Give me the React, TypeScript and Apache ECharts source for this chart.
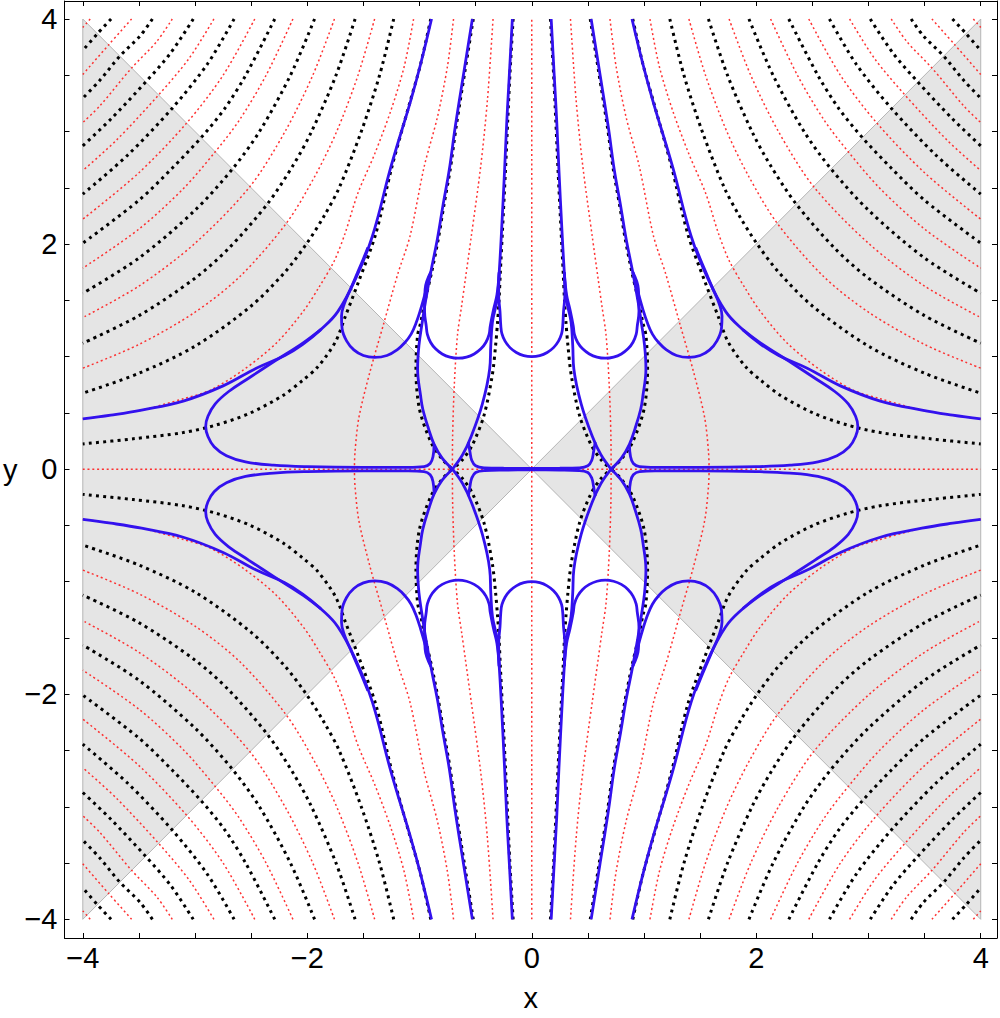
import React, { useEffect, useRef } from "react";
import * as echarts from "echarts";

type Pt = [number, number];

// ---------- axes ----------
const X_RANGE: Pt = [-4.163, 4.145];
const Y_RANGE: Pt = [-4.166, 4.16];
const TICK_VALUES = [-4, -3.5, -3, -2.5, -2, -1.5, -1, -0.5, 0, 0.5, 1, 1.5, 2, 2.5, 3, 3.5, 4];
const LABEL_VALUES = [-4, -2, 0, 2, 4];

// ---------- shaded region |x| > |y| ----------
const SHADE_LEFT: Pt[] = [[-4, -4], [-4, 4], [0, 0]];
const SHADE_RIGHT: Pt[] = [[4, 4], [4, -4], [0, 0]];

// ---------- red dotted contours ----------
const RED_VERTICAL: Pt[] = [[0, -4], [0, 4]];
const RED_HORIZONTAL: Pt[] = [[-4, 0], [4, 0]];
// quadrant I (x>=0, y>=0); the picture is mirror-symmetric in both axes
const red1: Pt[] = [[0.345, 4], [0.395, 3.28], [0.455, 2.69], [0.54, 2.06], [0.59, 1.7], [0.625, 1.45], [0.662, 1.19], [0.69, 0.75], [0.705, 0.3], [0.707, 0]];
const red2: Pt[] = [[0.697, 4], [0.751, 3.58], [0.84, 3.13], [0.958, 2.69], [1.085, 2.07], [1.195, 1.73], [1.32, 1.29], [1.44, 0.87], [1.54, 0.46], [1.575, 0.15], [1.58, 0]];
const red3: Pt[] = [[1.053, 4], [1.136, 3.58], [1.254, 3.19], [1.4, 2.8], [1.55, 2.45], [1.665, 2.09], [1.76, 1.85], [1.9, 1.61], [2.03, 1.41], [2.276, 1.12], [2.572, 0.88], [2.868, 0.7], [3.105, 0.625], [3.5, 0.52], [4, 0.446]];
const red4: Pt[] = [[1.4, 4], [1.548, 3.5], [1.738, 3.0], [1.934, 2.6], [2.186, 2.186], [2.6, 1.712], [3.0, 1.395], [3.5, 1.108], [4, 0.897]];
const red5: Pt[] = [[1.758, 4], [1.951, 3.5], [2.198, 3.0], [2.511, 2.511], [3.0, 2.007], [3.5, 1.627], [4, 1.347]];
const red6: Pt[] = [[2.128, 4], [2.367, 3.5], [2.606, 3.1], [2.82, 2.82], [3.1, 2.497], [3.5, 2.133], [4, 1.786]];
const red7: Pt[] = [[2.468, 4], [2.75, 3.5], [3.075, 3.075], [3.5, 2.634], [4, 2.221]];
const red8: Pt[] = [[2.832, 4], [3.053, 3.65], [3.325, 3.325], [3.7, 2.924], [4, 2.653]];
const red9: Pt[] = [[3.203, 4], [3.341, 3.8], [3.565, 3.565], [3.85, 3.226], [4, 3.08]];
const red10: Pt[] = [[3.565, 4], [3.77, 3.77], [4, 3.507]];
const red11: Pt[] = [[3.934, 4], [3.965, 3.965], [4, 3.925]];

// ---------- black dotted contours (quadrant I) ----------
const black1: Pt[] = [[0.166, 4], [0.195, 3.5], [0.214, 3.1], [0.234, 2.66], [0.262, 2.1], [0.28, 1.75], [0.292, 1.49], [0.305, 1.3], [0.322, 1.1], [0.351, 0.84], [0.425, 0.48], [0.529, 0.215], [0.62, 0.08], [0.707, 0]];
const black2: Pt[] = [[0.521, 4], [0.598, 3.52], [0.674, 3.04], [0.727, 2.66], [0.782, 2.35], [0.832, 2.05], [0.892, 1.75], [0.95, 1.5], [0.99, 1.3], [1.017, 1.19], [1.032, 0.897], [1.002, 0.541], [0.9, 0.244], [0.8, 0.09], [0.707, 0]];
const black3: Pt[] = [[0.9, 4], [0.99, 3.6], [1.08, 3.28], [1.245, 2.69], [1.39, 2.09], [1.545, 1.66], [1.66, 1.36], [1.75, 1.13], [1.91, 0.905], [2.04, 0.79], [2.217, 0.655], [2.513, 0.497], [2.809, 0.393], [3.105, 0.325], [3.55, 0.27], [4, 0.224]];
const black4: Pt[] = [[1.23, 4], [1.356, 3.5], [1.519, 3.0], [1.716, 2.5], [1.85, 2.25], [2.005, 2.005], [2.2, 1.75], [2.5, 1.45], [3.0, 1.093], [3.5, 0.852], [4, 0.675]];
const black5: Pt[] = [[1.574, 4], [1.744, 3.5], [1.962, 3.0], [2.126, 2.7], [2.356, 2.356], [2.7, 1.962], [3.0, 1.697], [3.5, 1.364], [4, 1.119]];
const black6: Pt[] = [[1.935, 4], [2.15, 3.5], [2.426, 3.0], [2.667, 2.667], [3.0, 2.301], [3.5, 1.876], [4, 1.563]];
const black7: Pt[] = [[2.29, 4], [2.549, 3.5], [2.739, 3.2], [2.946, 2.946], [3.2, 2.678], [3.5, 2.389], [4, 2.008]];
const black8: Pt[] = [[2.652, 4], [2.89, 3.6], [3.205, 3.205], [3.6, 2.791], [4, 2.444]];
const black9: Pt[] = [[3.016, 4], [3.216, 3.7], [3.44, 3.44], [3.75, 3.111], [4, 2.873]];
const black10: Pt[] = [[3.38, 4], [3.489, 3.85], [3.67, 3.67], [3.85, 3.453], [4, 3.297]];
const black11: Pt[] = [[3.748, 4], [3.87, 3.87], [4, 3.72]];

// ---------- blue curves (quadrant I) ----------
const blue1: Pt[] = [[0.173, 4], [0.2, 3.5], [0.222, 3.1], [0.242, 2.66], [0.27, 2.1], [0.29, 1.75], [0.31, 1.5], [0.35, 1.31], [0.365, 1.1], [0.375, 0.89], [0.44, 0.58], [0.54, 0.29], [0.615, 0.13], [0.707, 0]];
const blue2: Pt[] = [[0.529, 4], [0.606, 3.52], [0.682, 3.04], [0.735, 2.66], [0.79, 2.35], [0.84, 2.05], [0.9, 1.75], [0.945, 1.5], [0.975, 1.31], [1.005, 1.1], [1.017, 0.89], [0.99, 0.65], [0.97, 0.53], [0.92, 0.36], [0.87, 0.22], [0.8, 0.1], [0.707, 0]];
const blue3: Pt[] = [[0.893, 4], [0.99, 3.6], [1.077, 3.28], [1.254, 2.69], [1.42, 2.07], [1.566, 1.7], [1.728, 1.4], [1.88, 1.24], [2.04, 1.11], [2.2, 1.01], [2.454, 0.897], [2.75, 0.74], [3.105, 0.605], [3.476, 0.525], [3.75, 0.48], [4, 0.446]];
const blueLobe: Pt[] = [[1.88, 1.24], [2.04, 1.12], [2.29, 0.96], [2.52, 0.81], [2.7, 0.69], [2.82, 0.58], [2.885, 0.47], [2.905, 0.38], [2.885, 0.29], [2.83, 0.2], [2.72, 0.12], [2.55, 0.065], [2.3, 0.035], [2.0, 0.022], [1.5, 0.016], [1.1, 0.016], [0.96, 0.022], [0.905, 0.05], [0.88, 0.11], [0.87, 0.22]];
const blueLoop1: Pt[] = [[0.29, 1.75], [0.31, 1.55], [0.34, 1.42], [0.37, 1.271], [0.38, 1.197], [0.408, 1.128], [0.453, 1.069], [0.513, 1.024], [0.581, 0.996], [0.655, 0.986], [0.729, 0.996], [0.798, 1.024], [0.857, 1.069], [0.902, 1.128], [0.93, 1.197], [0.94, 1.271], [0.955, 1.4], [0.95, 1.6], [0.9, 1.75]];
const blueLoop2: Pt[] = [[0.9, 1.75], [0.95, 1.56], [0.99, 1.42], [1.03, 1.3], [1.075, 1.2], [1.13, 1.125], [1.2, 1.06], [1.29, 1.01], [1.4, 0.993], [1.5, 1.01], [1.585, 1.06], [1.65, 1.14], [1.69, 1.25], [1.695, 1.36], [1.67, 1.47], [1.615, 1.6], [1.555, 1.74], [1.5, 1.87], [1.46, 1.97]];
// halves that start on x = 0 and are joined with their mirror image
const blueLoop0Half: Pt[] = [[0, 1.0], [0.071, 1.009], [0.1375, 1.037], [0.194, 1.08], [0.238, 1.1375], [0.266, 1.204], [0.276, 1.275], [0.283, 1.4], [0.295, 1.55], [0.29, 1.75]];
const blueAxisHalf: Pt[] = [[0, 0.007], [0.25, 0.008], [0.42, 0.012], [0.5, 0.03], [0.535, 0.08], [0.55, 0.15], [0.565, 0.24]];

const RED_Q1 = [red1, red2, red3, red4, red5, red6, red7, red8, red9, red10, red11];
const BLACK_Q1 = [black1, black2, black3, black4, black5, black6, black7, black8, black9, black10, black11];
const BLUE_Q1 = [blue1, blue2, blue3, blueLobe, blueLoop1, blueLoop2];
const BLUE_HALVES = [blueLoop0Half, blueAxisHalf];

const flipX = (c: Pt[]): Pt[] => c.map(([x, y]) => [-x, y] as Pt);
const flipY = (c: Pt[]): Pt[] => c.map(([x, y]) => [x, -y] as Pt);
const fourWay = (c: Pt[]): Pt[][] => [c, flipX(c), flipY(c), flipY(flipX(c))];
const joinAcrossX = (half: Pt[]): Pt[] => [...flipX(half).slice(1).reverse(), ...half];

const RED_STYLE = { color: "#ff1c1c", width: 1.5, type: [2, 2.8], cap: "butt" as const, opacity: 0.9 };
const BLACK_STYLE = { color: "#000000", width: 3, type: [3, 4.2], cap: "butt" as const };
const BLUE_STYLE = { color: "#3311ee", width: 2.8 };

const FONT = "Liberation Sans, Arial, sans-serif";
const FONT_SIZE = 29;
const fmt = (v: number) => (v < 0 ? "\u2212" + Math.abs(v) : String(v));

function lineSeries(data: Pt[], lineStyle: any, z: number, smooth = 0.3) {
  return {
    type: "line",
    data,
    smooth,
    symbol: "none",
    showSymbol: false,
    lineStyle,
    z,
    silent: true,
    clip: true,
  };
}

function axisCommon(range: Pt) {
  return {
    type: "value",
    min: range[0],
    max: range[1],
    splitLine: { show: false },
    axisLine: { show: true, onZero: false, lineStyle: { color: "#000", width: 1 } },
    axisTick: { show: true, inside: true, length: 5, customValues: TICK_VALUES, lineStyle: { color: "#000", width: 1 } },
  };
}

export default function App() {
  const ref = useRef<HTMLDivElement>(null);
  useEffect(() => {
    if (!ref.current) return;
    const chart = echarts.init(ref.current, undefined, { renderer: "svg" });
    const shades = [SHADE_LEFT, SHADE_RIGHT];
    const series: any[] = [];
    series.push({
      type: "custom",
      coordinateSystem: "cartesian2d",
      data: shades.map(() => [0, 0]),
      z: 1,
      silent: true,
      renderItem: (params: any, api: any) => ({
        type: "polygon",
        shape: { points: shades[params.dataIndex].map((p) => api.coord(p)) },
        style: { fill: "#e5e5e5", stroke: "#b5b5b5", lineWidth: 1 },
      }),
    });
    series.push(lineSeries(RED_VERTICAL, RED_STYLE, 2));
    series.push(lineSeries(RED_HORIZONTAL, RED_STYLE, 2));
    RED_Q1.forEach((c) => fourWay(c).forEach((d) => series.push(lineSeries(d, RED_STYLE, 2))));
    BLACK_Q1.forEach((c) => fourWay(c).forEach((d) => series.push(lineSeries(d, BLACK_STYLE, 3))));
    BLUE_Q1.forEach((c) => fourWay(c).forEach((d) => series.push(lineSeries(d, BLUE_STYLE, 4, 0.4))));
    BLUE_HALVES.forEach((h) => {
      const full = joinAcrossX(h);
      series.push(lineSeries(full, BLUE_STYLE, 4, 0.4));
      series.push(lineSeries(flipY(full), BLUE_STYLE, 4, 0.4));
    });

    const labelStyle = { fontSize: FONT_SIZE, fontFamily: FONT, color: "#000" };
    chart.setOption({
      animation: false,
      backgroundColor: "#ffffff",
      grid: { left: 62, top: 1, width: 935, height: 937, containLabel: false },
      xAxis: [
        {
          ...axisCommon(X_RANGE),
          position: "bottom",
          axisLabel: { customValues: LABEL_VALUES, formatter: fmt, ...labelStyle, margin: 5 },
          name: "x",
          nameLocation: "middle",
          nameGap: 45,
          nameTextStyle: labelStyle,
        },
        { ...axisCommon(X_RANGE), position: "top", axisLabel: { show: false } },
      ],
      yAxis: [
        {
          ...axisCommon(Y_RANGE),
          position: "left",
          axisLabel: { customValues: LABEL_VALUES, formatter: fmt, ...labelStyle, margin: 7 },
          name: "y",
          nameLocation: "middle",
          nameRotate: 0,
          nameGap: 47,
          nameTextStyle: labelStyle,
        },
        { ...axisCommon(Y_RANGE), position: "right", axisLabel: { show: false } },
      ],
      series,
    });
    return () => chart.dispose();
  }, []);
  return <div ref={ref} style={{ position: "fixed", left: 0, top: 0, width: 1000, height: 1018 }} />;
}
